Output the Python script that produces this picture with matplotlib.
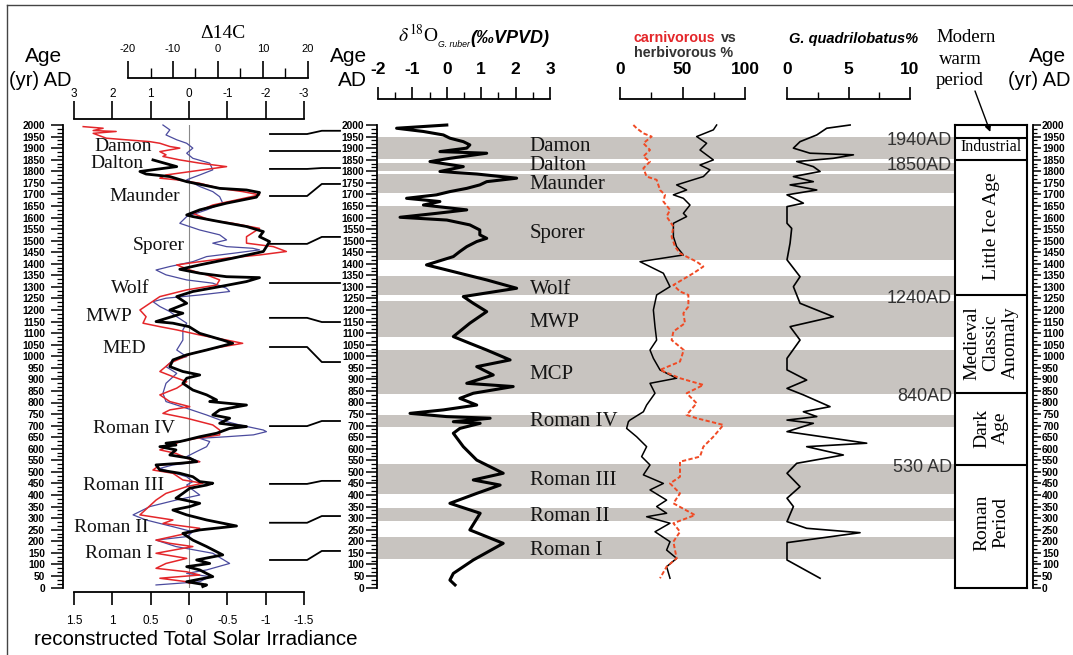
#!/usr/bin/env python3
"""Multi-proxy climate record for the last 2000 years (solar, d18O, plankton, periods)."""

import matplotlib

matplotlib.use("Agg")
import matplotlib.pyplot as plt
from matplotlib.lines import Line2D
from matplotlib.ticker import AutoMinorLocator, MultipleLocator

plt.rcParams["font.family"] = ["Liberation Sans", "DejaVu Sans"]
plt.rcParams["axes.unicode_minus"] = False
plt.rcParams["mathtext.fontset"] = "stix"
SERIF = ["Liberation Serif", "DejaVu Serif"]

# ---- data: (age AD, value) ----
TSI_BLACK = [
    (1849, 0.47), (1820, 0.16), (1799, 0.64), (1788, 0.56), (1777, 0.25), (1755, 0.03), (1741, -0.18),
    (1726, -0.40), (1719, -0.75), (1708, -0.92), (1688, -0.88), (1662, -0.49), (1633, -0.14), (1611, 0.03),
    (1604, -0.05), (1582, -0.40), (1561, -0.75), (1539, -0.97), (1517, -0.92), (1496, -1.05), (1474, -1.01),
    (1453, -0.97), (1424, -0.57), (1395, -0.14), (1376, 0.12), (1359, -0.14), (1344, -0.49), (1340, -0.92),
    (1323, -0.75), (1301, -0.40), (1280, -0.05), (1258, 0.16), (1229, 0.03), (1200, 0.25), (1186, 0.08),
    (1150, 0.43), (1143, 0.21), (1128, 0.00), (1099, -0.14), (1070, -0.44), (1056, -0.57), (1027, -0.23),
    (1006, 0.03), (984, 0.21), (955, 0.25), (934, 0.08), (919, -0.14), (905, 0.03), (883, 0.08), (854, -0.05),
    (833, -0.23), (811, -0.36), (804, -0.27), (789, -0.75), (768, -0.40), (746, -0.31), (732, -0.53),
    (710, -0.40), (696, -0.75), (688, -0.53), (667, -0.36), (652, -0.14), (638, 0.03), (631, 0.12),
    (624, 0.30), (616, 0.17), (609, 0.38), (595, 0.17), (573, 0.25), (559, -0.01), (544, -0.10), (537, 0.12),
    (530, 0.43), (508, 0.38), (494, 0.12), (479, -0.05), (458, -0.14), (451, -0.31), (443, -0.23),
    (429, -0.01), (407, 0.08), (386, 0.17), (364, -0.14), (350, -0.01), (335, 0.21), (314, 0.03),
    (292, -0.23), (266, -0.62), (249, -0.14), (234, 0.08), (205, -0.05), (177, -0.23), (141, -0.44),
    (119, -0.10), (104, -0.27), (90, 0.03), (76, -0.14), (47, -0.31), (25, 0.03), (11, -0.23), (4, -0.18),
]
TSI_RED = [
    (1993, 1.38), (1986, 1.12), (1976, 1.25), (1972, 0.95), (1964, 1.25), (1943, 1.08), (1936, 0.82),
    (1928, 0.51), (1921, 0.38), (1907, 0.25), (1900, 0.12), (1885, 0.38), (1871, 0.30), (1864, 0.34),
    (1849, 0.12), (1835, -0.14), (1820, -0.49), (1806, -0.18), (1784, 0.30), (1770, 0.38), (1763, 0.16),
    (1748, -0.14), (1726, -0.40), (1712, -0.70), (1698, -0.92), (1676, -0.62), (1654, -0.31), (1618, -0.05),
    (1589, -0.27), (1575, -0.57), (1553, -0.92), (1517, -0.75), (1489, -0.75), (1474, -1.10), (1453, -1.27),
    (1438, -0.92), (1424, -0.49), (1409, -0.14), (1395, 0.16), (1373, -0.01), (1352, -0.23), (1330, -0.40),
    (1308, -0.36), (1287, 0.03), (1258, 0.38), (1229, 0.51), (1200, 0.64), (1171, 0.56), (1143, 0.60),
    (1128, 0.38), (1114, 0.16), (1092, -0.14), (1070, -0.49), (1056, -0.70), (1034, -0.31), (1013, -0.05),
    (970, 0.25), (934, 0.38), (912, 0.21), (890, 0.03), (862, 0.16), (833, 0.38), (804, 0.25), (782, -0.01),
    (768, 0.25), (753, 0.34), (732, 0.03), (703, -0.31), (681, -0.40), (660, -0.40), (645, -0.10),
    (631, 0.12), (616, 0.21), (595, 0.38), (580, 0.17), (559, 0.03), (544, -0.14), (530, 0.38), (508, 0.47),
    (494, 0.21), (465, 0.08), (451, -0.18), (436, 0.03), (407, 0.30), (378, 0.43), (314, 0.64), (292, 0.21),
    (277, 0.34), (256, -0.14), (234, 0.03), (205, 0.43), (191, 0.25), (177, -0.05), (148, 0.43), (126, 0.03),
    (104, 0.30), (83, 0.43), (68, 0.03), (54, -0.14), (40, 0.38), (25, 0.03), (18, -0.01),
]
TSI_BLUE = [
    (2000, 0.34), (1979, 0.25), (1957, 0.30), (1936, 0.16), (1921, 0.03), (1900, -0.05), (1878, 0.03),
    (1856, -0.05), (1835, -0.27), (1806, -0.31), (1784, -0.14), (1763, 0.03), (1734, -0.14), (1712, -0.31),
    (1690, -0.40), (1662, -0.44), (1633, -0.23), (1604, 0.03), (1575, 0.12), (1546, -0.14), (1525, -0.40),
    (1503, -0.49), (1489, -0.31), (1474, -0.49), (1467, -0.83), (1460, -0.92), (1445, -0.57), (1431, -0.23),
    (1409, -0.05), (1388, 0.25), (1373, 0.43), (1352, 0.30), (1330, 0.03), (1316, -0.31), (1294, -0.49),
    (1280, -0.53), (1265, -0.14), (1251, 0.30), (1236, 0.47), (1215, 0.38), (1193, 0.25), (1171, 0.16),
    (1143, 0.03), (1114, 0.08), (1070, 0.08), (1027, 0.16), (998, 0.03), (984, 0.21), (955, 0.30),
    (926, 0.16), (883, 0.30), (840, 0.34), (804, 0.30), (775, 0.03), (746, -0.23), (725, -0.40), (703, -0.66),
    (681, -0.97), (674, -1.01), (660, -0.84), (652, -0.49), (645, -0.14), (631, -0.27), (609, -0.23),
    (588, -0.10), (566, 0.03), (544, -0.14), (530, 0.21), (515, 0.38), (501, 0.25), (479, 0.03), (458, -0.05),
    (443, 0.03), (422, -0.05), (400, -0.14), (378, 0.17), (350, 0.51), (314, 0.73), (292, 0.56), (263, 0.21),
    (241, -0.05), (220, 0.03), (205, 0.43), (177, 0.17), (148, -0.31), (104, -0.53), (76, -0.23), (61, 0.03),
    (47, -0.27), (25, -0.14), (11, 0.43),
]
D18O = [
    (2000, 0.0), (1986, -1.46), (1972, -0.68), (1957, -0.10), (1943, 0.09), (1928, 0.48), (1914, 0.67),
    (1900, 0.58), (1885, -0.20), (1878, 1.16), (1856, 0.09), (1842, -0.49), (1820, 0.48), (1799, -0.20),
    (1788, 0.87), (1770, 2.03), (1755, 1.16), (1741, 0.96), (1726, 0.58), (1712, 0.09), (1698, -0.30),
    (1683, -1.17), (1669, -0.20), (1654, -0.68), (1633, 0.58), (1618, -0.30), (1601, -1.36), (1589, 0.0),
    (1568, 0.67), (1546, 0.96), (1525, 0.96), (1510, 1.16), (1496, 0.87), (1474, 0.58), (1453, 0.38),
    (1431, 0.19), (1395, -0.59), (1366, 0.19), (1330, 1.16), (1294, 2.03), (1258, 0.48), (1229, 0.77),
    (1193, 1.16), (1143, 0.67), (1085, 0.19), (1056, 0.67), (1027, 1.16), (984, 1.84), (955, 0.87),
    (919, 1.35), (883, 0.58), (869, 1.93), (840, 0.77), (818, 0.38), (789, 0.87), (768, -0.10), (753, -1.07),
    (739, 0.0), (732, 1.26), (717, 0.19), (710, 0.97), (688, 0.38), (667, 0.19), (609, 0.48), (551, 0.87),
    (494, 1.64), (465, 0.77), (443, 1.55), (407, 0.87), (364, 0.09), (321, 0.97), (249, 0.67), (191, 1.64),
    (119, 0.77), (61, 0.19), (32, 0.09), (11, 0.24),
]
CARNIVOROUS = [
    (2000, 10.7), (1986, 13.3), (1964, 18.7), (1950, 25.3), (1921, 18.7), (1892, 24.0), (1864, 18.7),
    (1842, 24.0), (1813, 18.7), (1777, 21.3), (1763, 29.3), (1719, 32.0), (1698, 36.0), (1669, 34.7),
    (1633, 40.0), (1604, 37.3), (1561, 42.7), (1517, 41.3), (1474, 44.0), (1445, 48.0), (1409, 61.3),
    (1388, 66.7), (1359, 58.7), (1308, 42.7), (1280, 48.0), (1265, 54.7), (1215, 54.7), (1186, 50.7),
    (1143, 52.0), (1107, 42.7), (1070, 41.3), (1027, 51.0), (977, 48.0), (941, 32.0), (905, 48.0),
    (876, 66.7), (840, 53.3), (797, 61.3), (746, 53.3), (732, 61.3), (703, 82.7), (652, 74.7), (609, 66.7),
    (566, 64.0), (544, 48.0), (479, 48.0), (450, 40.0), (407, 48.0), (364, 42.7), (313, 60.0), (278, 42.7),
    (241, 48.0), (198, 42.7), (126, 45.3), (90, 37.3), (40, 32.0),
]
HERBIVOROUS = [
    (2000, 77.3), (1979, 74.7), (1950, 61.3), (1921, 69.3), (1892, 64.0), (1849, 74.7), (1827, 64.0),
    (1806, 72.0), (1777, 66.7), (1741, 45.3), (1719, 53.3), (1698, 42.7), (1683, 50.7), (1654, 56.0),
    (1618, 50.7), (1604, 53.3), (1575, 42.7), (1517, 42.7), (1474, 45.3), (1438, 50.7), (1409, 16.0),
    (1359, 34.7), (1301, 40.0), (1265, 29.3), (1200, 26.7), (1128, 28.0), (1070, 29.3), (1027, 24.0),
    (991, 26.7), (941, 32.0), (905, 45.3), (883, 24.0), (840, 28.0), (789, 21.3), (760, 18.7), (724, 8.0),
    (717, 6.7), (688, 5.3), (652, 13.3), (609, 21.3), (566, 17.3), (530, 24.0), (487, 18.7), (450, 34.7),
    (422, 24.0), (378, 37.3), (350, 29.3), (321, 37.3), (306, 21.3), (278, 40.0), (241, 28.0), (198, 40.0),
    (162, 37.3), (126, 45.3), (90, 37.3), (40, 40.0),
]
G_QUAD = [
    (2000, 5.13), (1986, 3.23), (1957, 2.42), (1928, 1.06), (1900, 0.52), (1878, 1.87), (1871, 5.40),
    (1856, 3.77), (1842, 0.79), (1820, 2.14), (1799, 2.69), (1777, 0.52), (1755, 2.14), (1741, 0.25),
    (1719, 2.42), (1698, 0.0), (1662, 1.33), (1647, 0.0), (1575, 0.0), (1553, 0.38), (1489, 0.25),
    (1417, 0.0), (1344, 1.06), (1301, 0.52), (1229, 1.06), (1171, 3.77), (1128, 0.25), (1070, 1.06),
    (991, 0.0), (941, 0.0), (897, 1.60), (861, 0.0), (833, 1.33), (782, 3.50), (760, 1.33), (739, 2.42),
    (724, 0.0), (710, 2.14), (674, 0.0), (624, 6.48), (609, 1.60), (573, 4.58), (537, 0.79), (494, 0.0),
    (436, 1.06), (386, 0.0), (350, 0.52), (285, 0.0), (256, 1.60), (237, 5.94), (194, 0.0), (119, 0.0),
    (40, 2.69),
]

# solar minima / events
BANDS = [(1855, 1946), (1802, 1834), (1707, 1786), (1415, 1650), (1266, 1347), (1082, 1241),
         (838, 1027), (695, 746), (404, 534), (287, 342), (125, 219)]
BAND_NAMES = ["Damon", "Dalton", "Maunder", "Sporer", "Wolf", "MWP", "MCP",
              "Roman IV", "Roman III", "Roman II", "Roman I"]
BAND_LABEL_AGE = [1905, 1823, 1741, 1529, 1287, 1148, 923, 716, 461, 305, 158]
LEFT_NAMES = ["Damon", "Dalton", "Maunder", "Sporer", "Wolf", "MWP", "MED",
              "Roman IV", "Roman III", "Roman II", "Roman I"]
LEFT_LABEL_TSI = [0.86, 0.94, 0.58, 0.39, 0.77, 1.05, 0.84, 0.72, 0.86, 1.01, 0.92]
LEFT_LABEL_AGE = [1905, 1832, 1689, 1479, 1295, 1170, 1032, 686, 443, 261, 149]
# (age at left panel, age at middle axis)
CONNECTORS = [(1961, 1975), (1888, 1888), (1810, 1814), (1693, 1745), (1486, 1516), (1317, 1317),
              (1166, 1148), (1040, 975), (698, 720), (448, 461), (280, 309), (119, 158)]

PERIOD_EDGES = [1945, 1850, 1265, 840, 530]
PERIOD_NAMES = ["Industrial", "Little Ice Age", "Medieval\nClassic\nAnomaly", "Dark\nAge", "Roman\nPeriod"]
PERIOD_LABEL_AGE = [1905, 1560, 1057, 690, 279]
EDGE_LABELS = ["1940AD", "1850AD", "1240AD", "840AD", "530 AD"]
EDGE_LABEL_AGE = [1931, 1827, 1248, 824, 521]

W, H = 1073, 655
AGE_TOP, AGE_BOT = 125, 587.5
RED = "#e4262a"
BLUE = "#4b4b9e"
BAND_GRAY = "#c8c4c0"

fig = plt.figure(figsize=(W / 100, H / 100), dpi=100)


def px_axes(x0, x1, y0=AGE_TOP, y1=AGE_BOT, zorder=1):
    ax = fig.add_axes([x0 / W, 1 - y1 / H, max(x1 - x0, 0.01) / W, max(y1 - y0, 0.01) / H], zorder=zorder)
    ax.patch.set_visible(False)
    for s in ax.spines.values():
        s.set_visible(False)
    ax.set_xticks([])
    ax.set_yticks([])
    return ax


def ftext(x, y, s, **kw):
    fig.text(x / W, 1 - y / H, s, **kw)


def unzip(pairs):
    return [p[0] for p in pairs], [p[1] for p in pairs]


def age_axis(x, side, length, pad):
    ax = px_axes(x, x + 0.01)
    ax.set_ylim(0, 2000)
    ax.spines["left"].set_visible(True)
    ax.spines["left"].set_linewidth(1.3)
    ax.yaxis.set_ticks_position(side)
    ax.yaxis.set_label_position(side)
    ax.yaxis.set_major_locator(MultipleLocator(50))
    ax.yaxis.set_minor_locator(AutoMinorLocator(3))
    ax.tick_params(axis="y", which="major", direction="out", length=length, width=1.1, pad=pad, labelsize=7.4)
    ax.tick_params(axis="y", which="minor", direction="out", length=length * 0.5, width=0.9)
    plt.setp(ax.get_yticklabels(), fontweight="bold")
    return ax


def scale_axis(x0, x1, y, lim, major, labels, minor, side, length, minor_len, pad, fs, weight="normal"):
    ax = px_axes(x0, x1, y - 0.005, y + 0.005)
    ax.set_xlim(*lim)
    ax.spines[side].set_visible(True)
    ax.spines[side].set_linewidth(1.3)
    ax.xaxis.set_ticks_position(side)
    ax.set_xticks(major, labels)
    if minor:
        ax.set_xticks(minor, minor=True)
    ax.tick_params(axis="x", which="major", direction="out", length=length, width=1.2, pad=pad, labelsize=fs)
    ax.tick_params(axis="x", which="minor", direction="out", length=minor_len, width=1.0)
    plt.setp(ax.get_xticklabels(), fontweight=weight)
    return ax


# ---- left panel: solar irradiance / D14C ----
ax_l = px_axes(74, 304)
ax_l.set_xlim(1.5, -1.5)
ax_l.set_ylim(0, 2000)
ax_l.plot([0, 0], [0, 2000], color="#8a8a8a", lw=0.8)
a, v = unzip(TSI_BLUE)
ax_l.plot(v, a, color=BLUE, lw=0.9, clip_on=False)
a, v = unzip(TSI_RED)
ax_l.plot(v, a, color=RED, lw=1.1, clip_on=False)
a, v = unzip(TSI_BLACK)
ax_l.plot(v, a, color="black", lw=2.0, clip_on=False)
for name, xv, ag in zip(LEFT_NAMES, LEFT_LABEL_TSI, LEFT_LABEL_AGE):
    ax_l.text(xv, ag, name, ha="center", va="center", fontsize=14, family=SERIF, color="#111111")

age_axis(63, "left", 9, 4)
scale_axis(128, 308, 78, (-20, 20), [-20, -10, 0, 10, 20], ["-20", "-10", "0", "10", "20"],
           [-15, -5, 5, 15], "top", 12, 7, 5.5, 8)
scale_axis(74, 304, 119, (3, -3), [3, 2, 1, 0, -1, -2, -3], ["3", "2", "1", "0", "-1", "-2", "-3"],
           None, "top", 13, 0, 1, 8.5)
scale_axis(74, 304, 592, (1.5, -1.5), [1.5, 1, 0.5, 0, -0.5, -1, -1.5],
           ["1.5", "1", "0.5", "0", "-0.5", "-1", "-1.5"], None, "bottom", 9.5, 0, 7, 8.5)

# connectors from left events to middle ages
ax_c = px_axes(270, 340)
ax_c.set_xlim(0, 1)
ax_c.set_ylim(0, 2000)
for left_age, right_age in CONNECTORS:
    ax_c.plot([0, 0.53, 0.74, 1], [left_age, left_age, right_age, right_age], color="black", lw=1.3,
              clip_on=False)

# ---- middle: bands and proxies ----
ax_b = px_axes(378, 955, zorder=0)
ax_b.set_xlim(0, 1)
ax_b.set_ylim(0, 2000)
for lo, hi in BANDS:
    ax_b.axhspan(lo, hi, color=BAND_GRAY, lw=0)
for name, ag in zip(BAND_NAMES, BAND_LABEL_AGE):
    ax_b.text(0.263, ag, name, ha="left", va="center", fontsize=15, family=SERIF, color="#151515")
for name, ag in zip(EDGE_LABELS, EDGE_LABEL_AGE):
    ax_b.text(0.995, ag, name, ha="right", va="center", fontsize=13, color="#333333")

age_axis(377, "left", 8, 1)

ax_d = px_axes(378, 550)
ax_d.set_xlim(-2, 3)
ax_d.set_ylim(0, 2000)
a, v = unzip(D18O)
ax_d.plot(v, a, color="black", lw=2.2, clip_on=False)
scale_axis(378, 550, 99, (-2, 3), [-2, -1, 0, 1, 2, 3], ["-2", "-1", "0", "1", "2", "3"],
           [-1.5, -0.5, 0.5, 1.5, 2.5], "top", 9, 5, 7, 12.5, weight="bold")

ax_h = px_axes(620, 745)
ax_h.set_xlim(0, 100)
ax_h.set_ylim(0, 2000)
a, v = unzip(HERBIVOROUS)
ax_h.plot(v, a, color="black", lw=1.1, clip_on=False)
a, v = unzip(CARNIVOROUS)
ax_h.plot(v, a, color="#f04a24", lw=1.4, ls=(0, (2.2, 1.2)), clip_on=False)
scale_axis(620, 745, 99, (0, 100), [0, 50, 100], ["0", "50", "100"], [25, 75], "top", 9, 5, 7, 12.5,
           weight="bold")

ax_g = px_axes(787, 910)
ax_g.set_xlim(0, 10)
ax_g.set_ylim(0, 2000)
a, v = unzip(G_QUAD)
ax_g.plot(v, a, color="black", lw=1.2, clip_on=False)
scale_axis(787, 910, 99, (0, 10), [0, 5, 10], ["0", "5", "10"], [2.5, 7.5], "top", 9, 5, 7, 12.5,
           weight="bold")

# ---- right: climate periods ----
ax_p = px_axes(955, 1027, zorder=2)
ax_p.set_xlim(0, 1)
ax_p.set_ylim(0, 2000)
for s in ax_p.spines.values():
    s.set_visible(True)
    s.set_linewidth(1.5)
for edge in PERIOD_EDGES:
    ax_p.axhline(edge, color="black", lw=1.5)
for name, ag in zip(PERIOD_NAMES, PERIOD_LABEL_AGE):
    if name == "Industrial":
        ax_p.text(0.5, ag, name, ha="center", va="center", fontsize=11.5, family=SERIF)
    else:
        ax_p.text(0.5, ag, name, ha="center", va="center", rotation=90, fontsize=14, family=SERIF,
                  multialignment="center", linespacing=1.15)
ax_p.annotate("", xy=(0.49, 1970), xycoords="data", xytext=(975 / W, 1 - 91 / H),
              textcoords="figure fraction",
              arrowprops=dict(arrowstyle="-|>", color="black", lw=1.0, mutation_scale=9, shrinkA=0, shrinkB=0))

age_axis(1033, "right", 5.5, 1)

# ---- titles ----
ftext(223, 38, "\u039414C", ha="center", va="baseline", fontsize=14, family=SERIF)
ftext(44, 62, "Age", ha="center", va="baseline", fontsize=15)
ftext(40, 86, "(yr) AD", ha="center", va="baseline", fontsize=14.5)
ftext(367, 62, "Age", ha="right", va="baseline", fontsize=15)
ftext(367, 86, "AD", ha="right", va="baseline", fontsize=15)
ftext(1048, 62, "Age", ha="center", va="baseline", fontsize=15)
ftext(1071, 86, "(yr) AD", ha="right", va="baseline", fontsize=14.5)
ftext(398, 42, r"$\delta^{18}$O", ha="left", va="baseline", fontsize=14, family=SERIF)
ftext(438, 47, "G. ruber", ha="left", va="baseline", fontsize=6.3, fontstyle="italic")
ftext(470, 43, "(\u2030VPVD)", ha="left", va="baseline", fontsize=13, fontweight="bold", fontstyle="italic")
ftext(634, 42, "carnivorous", ha="left", va="baseline", fontsize=10.3, fontweight="bold", color=RED)
ftext(721, 42, "vs", ha="left", va="baseline", fontsize=10.3, fontweight="bold", color="#333333")
ftext(634, 57, "herbivorous %", ha="left", va="baseline", fontsize=10.3, fontweight="bold", color="#333333")
ftext(854, 43, "G. quadrilobatus%", ha="center", va="baseline", fontsize=10.5, fontweight="bold",
      fontstyle="italic")
ftext(966, 42, "Modern", ha="center", va="baseline", fontsize=13.5, family=SERIF)
ftext(960, 64, "warm", ha="center", va="baseline", fontsize=13.5, family=SERIF)
ftext(960, 85, "period", ha="center", va="baseline", fontsize=13.5, family=SERIF)
ftext(196, 645, "reconstructed Total Solar Irradiance", ha="center", va="baseline", fontsize=14.8)

# frame edges of the original figure
fig.add_artist(Line2D([7 / W, 1], [1 - 5 / H, 1 - 5 / H], color="#444444", lw=1.0))
fig.add_artist(Line2D([7 / W, 7 / W], [1 - 5 / H, 0], color="#444444", lw=1.0))

fig.savefig("out.png", dpi=100)
